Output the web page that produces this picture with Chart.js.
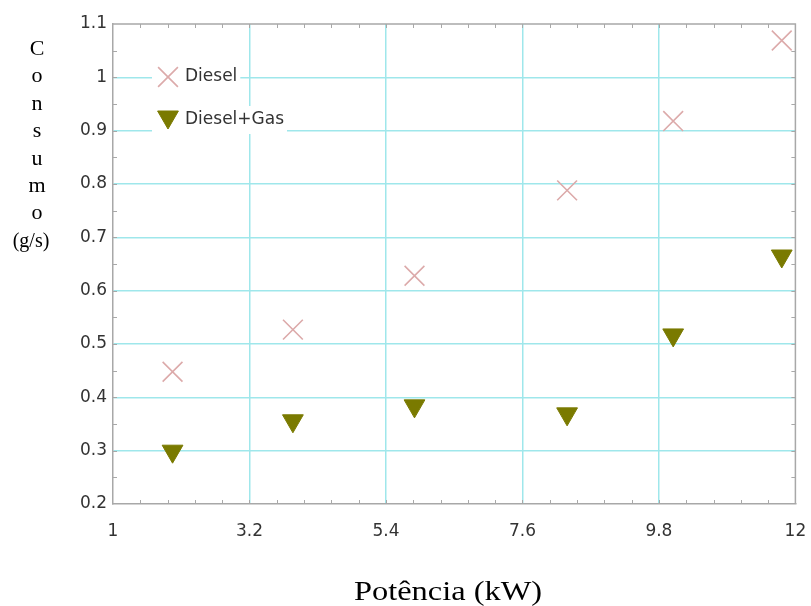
<!DOCTYPE html>
<html>
<head>
<meta charset="utf-8">
<script src="https://cdn.jsdelivr.net/npm/chart.js@4.4.1/dist/chart.umd.min.js"></script>
<style>
  html, body { margin: 0; padding: 0; background: #ffffff; }
  #wrap { width: 811px; height: 606px; position: relative; }
</style>
</head>
<body>
<div id="wrap"><canvas id="c" width="811" height="606"></canvas></div>
<script>
// ---- data ----
const seriesNames = ['Diesel', 'Diesel+Gas'];
const potencia = [1.96, 3.90, 5.86, 8.32, 10.03, 11.78];
const consumoDiesel = [0.448, 0.527, 0.628, 0.788, 0.918, 1.069];
const consumoDieselGas = [0.299, 0.356, 0.384, 0.369, 0.517, 0.665];
const xTickLabels = ['1', '3.2', '5.4', '7.6', '9.8', '12'];
const yTickLabels = ['0.2', '0.3', '0.4', '0.5', '0.6', '0.7', '0.8', '0.9', '1', '1.1'];
const xTitle = 'Potência (kW)';
const yTitleLetters = ['C', 'o', 'n', 's', 'u', 'm', 'o'];
const yTitleUnit = '(g/s)';
const xMinorStep = 0.44;
const yMinorStep = 0.05;

const GRID = '#9fe7eb';
const AXIS = '#a8a8a8';
const TEXT = '#333333';
const tickFont = { family: 'DejaVu Sans', size: 17 };

const xTickVals = xTickLabels.map(Number);
const yTickVals = yTickLabels.map(Number);

function pts(xs, ys) { return xs.map((x, i) => ({ x: x, y: ys[i] })); }

const styles = [
  { pointStyle: 'crossRot', radius: 14, rotation: 0, color: '#dcaaaa', fill: 'rgba(0,0,0,0)', borderWidth: 1.6 },
  { pointStyle: 'triangle', radius: 12, rotation: 180, color: '#7a7a00', fill: '#7a7a00', borderWidth: 1 }
];

const datasets = [consumoDiesel, consumoDieselGas].map((ys, i) => ({
  label: seriesNames[i],
  data: pts(potencia, ys),
  showLine: false,
  pointStyle: styles[i].pointStyle,
  pointRadius: styles[i].radius,
  pointHoverRadius: styles[i].radius,
  pointRotation: styles[i].rotation,
  borderColor: styles[i].color,
  backgroundColor: styles[i].fill,
  pointBorderWidth: styles[i].borderWidth
}));

function edgeTransparent(vals) {
  return (ctx) => {
    const v = ctx.tick ? ctx.tick.value : null;
    if (v === vals[0] || v === vals[vals.length - 1]) return 'rgba(0,0,0,0)';
    return GRID;
  };
}

const framePlugin = {
  id: 'frame',
  beforeDatasetsDraw(chart) {
    const { ctx, chartArea: a, scales } = chart;
    ctx.save();
    ctx.strokeStyle = AXIS;
    ctx.lineWidth = 1.5;
    ctx.beginPath();
    ctx.moveTo(a.left, a.top); ctx.lineTo(a.right, a.top); ctx.lineTo(a.right, a.bottom);
    ctx.stroke();
    ctx.lineWidth = 1;
    const L = 4;
    const xs = scales.x, ys = scales.y;
    ctx.beginPath();
    for (let k = 1; ; k++) {
      const v = xs.min + k * xMinorStep;
      if (v >= xs.max - 1e-9) break;
      const px = Math.round(xs.getPixelForValue(v)) + 0.5;
      ctx.moveTo(px, a.bottom); ctx.lineTo(px, a.bottom - L);
      ctx.moveTo(px, a.top); ctx.lineTo(px, a.top + L);
    }
    for (let k = 1; ; k++) {
      const v = ys.min + k * yMinorStep;
      if (v >= ys.max - 1e-9) break;
      const py = Math.round(ys.getPixelForValue(v)) + 0.5;
      ctx.moveTo(a.left, py); ctx.lineTo(a.left + L, py);
      ctx.moveTo(a.right, py); ctx.lineTo(a.right - L, py);
    }
    ctx.stroke();
    ctx.restore();
  },
  afterDatasetsDraw(chart) {
    const { ctx } = chart;
    ctx.save();
    const entries = [
      { x: 168, y: 77, ty: 77 },
      { x: 168, y: 117, ty: 120 }
    ];
    ctx.font = '17px "DejaVu Sans"';
    ctx.textBaseline = 'middle';
    ctx.textAlign = 'left';
    entries.forEach((e, i) => {
      const w = ctx.measureText(seriesNames[i]).width;
      ctx.fillStyle = '#ffffff';
      ctx.fillRect(152, e.ty - 14, (185 + w + 3) - 152, 28);
      const s = styles[i];
      ctx.strokeStyle = s.color;
      ctx.fillStyle = s.fill;
      ctx.lineWidth = s.borderWidth;
      Chart.helpers.drawPoint(ctx, { pointStyle: s.pointStyle, radius: s.radius, rotation: s.rotation, borderWidth: s.borderWidth }, e.x, e.y);
      ctx.fillStyle = TEXT;
      ctx.fillText(seriesNames[i], 185, e.ty);
    });
    ctx.fillStyle = '#000000';
    ctx.textAlign = 'center';
    ctx.textBaseline = 'alphabetic';
    ctx.font = '22px "Liberation Serif"';
    yTitleLetters.forEach((ch, i) => {
      ctx.fillText(ch, 37, 55 + i * 27.4);
    });
    ctx.font = '20px "Liberation Serif"';
    ctx.fillText(yTitleUnit, 31, 247);
    ctx.save();
    ctx.translate(448, 600);
    ctx.scale(1.2, 1);
    ctx.font = '27px "Liberation Serif"';
    ctx.fillText(xTitle, 0, 0);
    ctx.restore();
    ctx.restore();
  }
};

new Chart(document.getElementById('c'), {
  type: 'scatter',
  data: { datasets: datasets },
  plugins: [framePlugin],
  options: {
    responsive: false,
    animation: false,
    layout: { padding: { top: 24, right: 11, left: 0, bottom: 0 } },
    plugins: { legend: { display: false }, tooltip: { enabled: false } },
    scales: {
      x: {
        type: 'linear',
        min: xTickVals[0],
        max: xTickVals[xTickVals.length - 1],
        afterBuildTicks: (s) => { s.ticks = xTickVals.map(v => ({ value: v })); },
        afterFit: (s) => { s.height = 102; s.paddingLeft = 0; s.paddingRight = 0; },
        ticks: {
          font: tickFont, color: TEXT, padding: 17, maxRotation: 0, autoSkip: false,
          callback: (v) => xTickLabels[xTickVals.indexOf(v)]
        },
        grid: { color: edgeTransparent(xTickVals), lineWidth: 1.5, drawTicks: false },
        border: { color: AXIS, width: 1.5 }
      },
      y: {
        type: 'linear',
        min: yTickVals[0],
        max: yTickVals[yTickVals.length - 1],
        afterBuildTicks: (s) => { s.ticks = yTickVals.map(v => ({ value: v })); },
        afterFit: (s) => { s.width = 113; s.paddingTop = 0; s.paddingBottom = 0; },
        ticks: {
          font: tickFont, color: TEXT, padding: 6, autoSkip: false,
          callback: (v) => yTickLabels[yTickVals.indexOf(v)]
        },
        grid: { color: edgeTransparent(yTickVals), lineWidth: 1.5, drawTicks: false },
        border: { color: AXIS, width: 1.5 }
      }
    }
  }
});
</script>
</body>
</html>
